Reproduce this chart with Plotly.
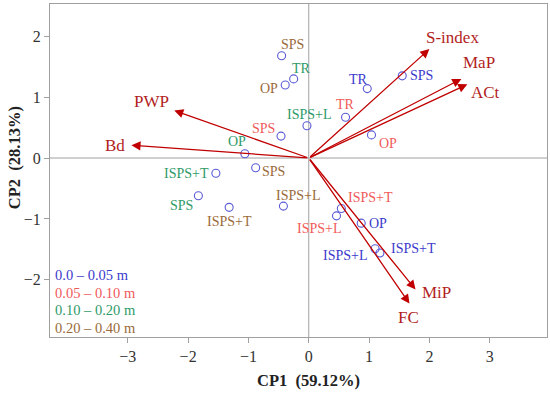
import plotly.graph_objects as go

# ---- data ----
depths = ["0.0 – 0.05 m", "0.05 – 0.10 m", "0.10 – 0.20 m", "0.20 – 0.40 m"]
depth_colors = ["#3a3acc", "#f05a5a", "#2e9a68", "#9a6a3a"]

# scores per depth (blue, red, green, brown)
pt_labels = [
    ["SPS", "TR", "OP", "ISPS+L", "ISPS+T"],
    ["TR", "OP", "SPS", "ISPS+T", "ISPS+L"],
    ["ISPS+L", "TR", "OP", "ISPS+T", "SPS"],
    ["SPS", "OP", "SPS", "ISPS+T", "ISPS+L"],
]
pt_x = [
    [1.55, 0.97, 0.87, 1.10, 1.18],
    [0.61, 1.04, -0.46, 0.54, 0.46],
    [-0.03, -0.25, -1.06, -1.54, -1.83],
    [-0.45, -0.39, -0.88, -1.32, -0.42],
]
pt_y = [
    [1.35, 1.14, -1.07, -1.49, -1.56],
    [0.67, 0.38, 0.36, -0.83, -0.95],
    [0.53, 1.30, 0.07, -0.25, -0.62],
    [1.68, 1.20, -0.16, -0.81, -0.79],
]
# label offsets from each point, in pixels (dx right, dy up)
pt_label_shift = [
    [(19, 0), (-9, 9), (17, 0), (-30, -7), (34, 4)],
    [(0, 13), (17, -9), (-18, 8), (29, 11), (-18, -13)],
    [(2, 11), (8, 10), (-8, 12), (-29, 0), (-17, -10)],
    [(11, 11), (-16, -4), (18, -4), (0, -14), (15, 11)],
]

# loadings (arrow tips)
var_names = ["S-index", "MaP", "ACt", "PWP", "Bd", "MiP", "FC"]
var_x = [2.00, 2.53, 2.63, -2.23, -2.94, 1.77, 1.67]
var_y = [1.79, 1.30, 1.21, 0.78, 0.21, -2.16, -2.39]
# label positions for variable names
var_lx = [2.38, 2.83, 2.93, -2.61, -3.22, 2.12, 1.66]
var_ly = [1.98, 1.57, 1.07, 0.93, 0.21, -2.21, -2.62]

x_ticks = [-3, -2, -1, 0, 1, 2, 3]
y_ticks = [-2, -1, 0, 1, 2]
x_title = "CP1\u00a0 (59.12%)"
y_title = "CP2\u00a0 (28.13%)"

FONT = "Liberation Serif, Times New Roman, serif"
ARROW_COLOR = "#c00000"
VAR_COLOR = "#b21e1e"
MARKER_COLOR = "#5a5ad6"

fig = go.Figure()

# zero lines
fig.add_hline(y=0, line=dict(color="#a0a0a0", width=1), layer="below")
fig.add_vline(x=0, line=dict(color="#a0a0a0", width=1), layer="below")

# arrows
for nm, x, y in zip(var_names, var_x, var_y):
    fig.add_annotation(x=x, y=y, ax=0, ay=0, xref="x", yref="y", axref="x", ayref="y",
                       text="", showarrow=True, arrowhead=2, arrowsize=1.4,
                       arrowwidth=1.3, arrowcolor=ARROW_COLOR)

# variable labels
for nm, x, y in zip(var_names, var_lx, var_ly):
    fig.add_annotation(x=x, y=y, xref="x", yref="y", text=nm, showarrow=False,
                       font=dict(family=FONT, size=17, color=VAR_COLOR))

# points
for i in range(len(depths)):
    fig.add_trace(go.Scatter(
        x=pt_x[i], y=pt_y[i], mode="markers",
        marker=dict(symbol="circle-open", size=8, color=MARKER_COLOR, line=dict(width=1.1)),
        showlegend=False, cliponaxis=False, name=depths[i]))
    for lab, x, y, (dx, dy) in zip(pt_labels[i], pt_x[i], pt_y[i], pt_label_shift[i]):
        fig.add_annotation(x=x, y=y, xref="x", yref="y", text=lab, showarrow=False,
                           xanchor="center", yanchor="middle", xshift=dx, yshift=dy,
                           font=dict(family=FONT, size=14, color=depth_colors[i]))

# legend-like text
leg_y = [0.187, 0.132, 0.080, 0.028]
for d, c, yy in zip(depths, depth_colors, leg_y):
    fig.add_annotation(x=0.006, y=yy, xref="x domain", yref="y domain", text=d,
                       showarrow=False, xanchor="left", yanchor="middle",
                       font=dict(family=FONT, size=14.5, color=c))

# axis titles
fig.add_annotation(x=0, y=-0.13, xref="x", yref="y domain", text="<b>%s</b>" % x_title,
                   showarrow=False, xanchor="center", yanchor="middle",
                   font=dict(family=FONT, size=16.5, color="#222"))
fig.add_annotation(x=-0.072, y=0, xref="x domain", yref="y", text="<b>%s</b>" % y_title,
                   textangle=-90, showarrow=False, xanchor="center", yanchor="middle",
                   font=dict(family=FONT, size=16.5, color="#222"))

axis_common = dict(showgrid=False, zeroline=False, showline=True, mirror=True,
                   linecolor="#a0a0a0", linewidth=1, ticks="outside", ticklen=5,
                   tickcolor="#a0a0a0", tickfont=dict(family=FONT, size=16, color="#333"))
fig.update_xaxes(range=[-4.29, 3.95], tickvals=x_ticks,
                 ticktext=[("\u2212%d" % -v) if v < 0 else str(v) for v in x_ticks], **axis_common)
fig.update_yaxes(range=[-2.94, 2.53], tickvals=y_ticks,
                 ticktext=[("\u2212%d" % -v) if v < 0 else str(v) for v in y_ticks], **axis_common)

fig.update_layout(width=550, height=395, margin=dict(l=50, r=3, t=4, b=58),
                  plot_bgcolor="white", paper_bgcolor="white", showlegend=False)

fig.write_html("out.html", config={"displayModeBar": False},
               post_script="document.body.style.margin='0';document.body.style.overflow='hidden';")
